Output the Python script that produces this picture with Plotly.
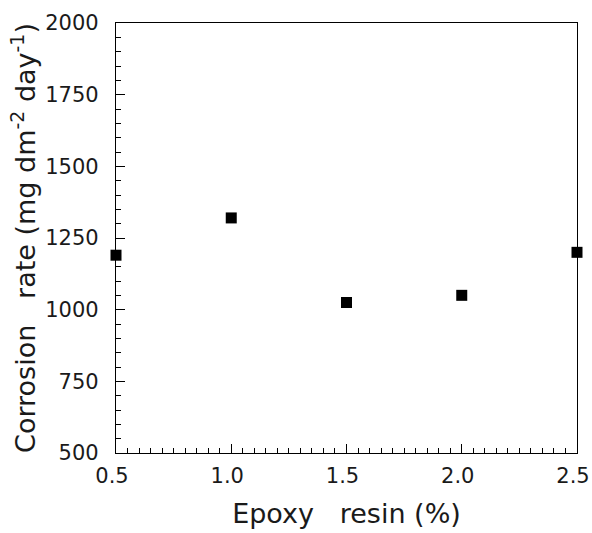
import plotly.graph_objects as go

epoxy_resin = [0.5, 1.0, 1.5, 2.0, 2.5]
corrosion_rate = [1190, 1320, 1025, 1050, 1200]

x_ticks = [0.5, 1.0, 1.5, 2.0, 2.5]
x_tick_labels = ["0.5", "1.0", "1.5", "2.0", "2.5"]
y_ticks = [500, 750, 1000, 1250, 1500, 1750, 2000]

font_family = "DejaVu Sans, Verdana, sans-serif"
ink = "#1a1a1a"

fig = go.Figure()
fig.add_trace(go.Scatter(
    x=epoxy_resin, y=corrosion_rate, mode="markers",
    marker=dict(symbol="square", size=11, color="black"),
    cliponaxis=False, showlegend=False,
))

fig.update_layout(
    width=592, height=533,
    margin=dict(l=116, r=15, t=23, b=80),
    paper_bgcolor="white", plot_bgcolor="white",
    font=dict(family=font_family, color=ink),
    xaxis=dict(
        range=[0.5, 2.5], tickvals=x_ticks, ticktext=x_tick_labels,
        automargin=False, ticklabeloverflow="allow",
        showgrid=False, zeroline=False,
        showline=True, linecolor="black", linewidth=1.3, mirror=True,
        ticks="inside", ticklen=9, tickwidth=1.2, tickcolor="black",
        minor=dict(dtick=0.05, ticks="inside", ticklen=5, tickwidth=1, tickcolor="black", showgrid=False),
        tickfont=dict(size=21, color=ink),
        ticklabelstandoff=4, ticklabelshift=-4,
        title=dict(text="Epoxy\u00a0\u00a0\u00a0resin (%)", font=dict(size=27, color=ink), standoff=16),
    ),
    yaxis=dict(
        range=[500, 2000], tickvals=y_ticks,
        automargin=False, ticklabeloverflow="allow",
        showgrid=False, zeroline=False,
        showline=True, linecolor="black", linewidth=1.3, mirror=True,
        ticks="inside", ticklen=9, tickwidth=1.2, tickcolor="black",
        minor=dict(dtick=50, ticks="inside", ticklen=5, tickwidth=1, tickcolor="black", showgrid=False),
        tickfont=dict(size=21, color=ink),
        ticklabelstandoff=12,
        title=dict(text="Corrosion\u00a0\u00a0\u00a0rate (mg\u00a0dm<sup>-2</sup>\u00a0day<sup>-1</sup>)",
                   font=dict(size=27, color=ink), standoff=1),
    ),
)

fig.write_html(
    "out.html",
    config={"displayModeBar": False},
    post_script="document.body.style.margin='0';document.body.style.overflow='hidden';",
)
